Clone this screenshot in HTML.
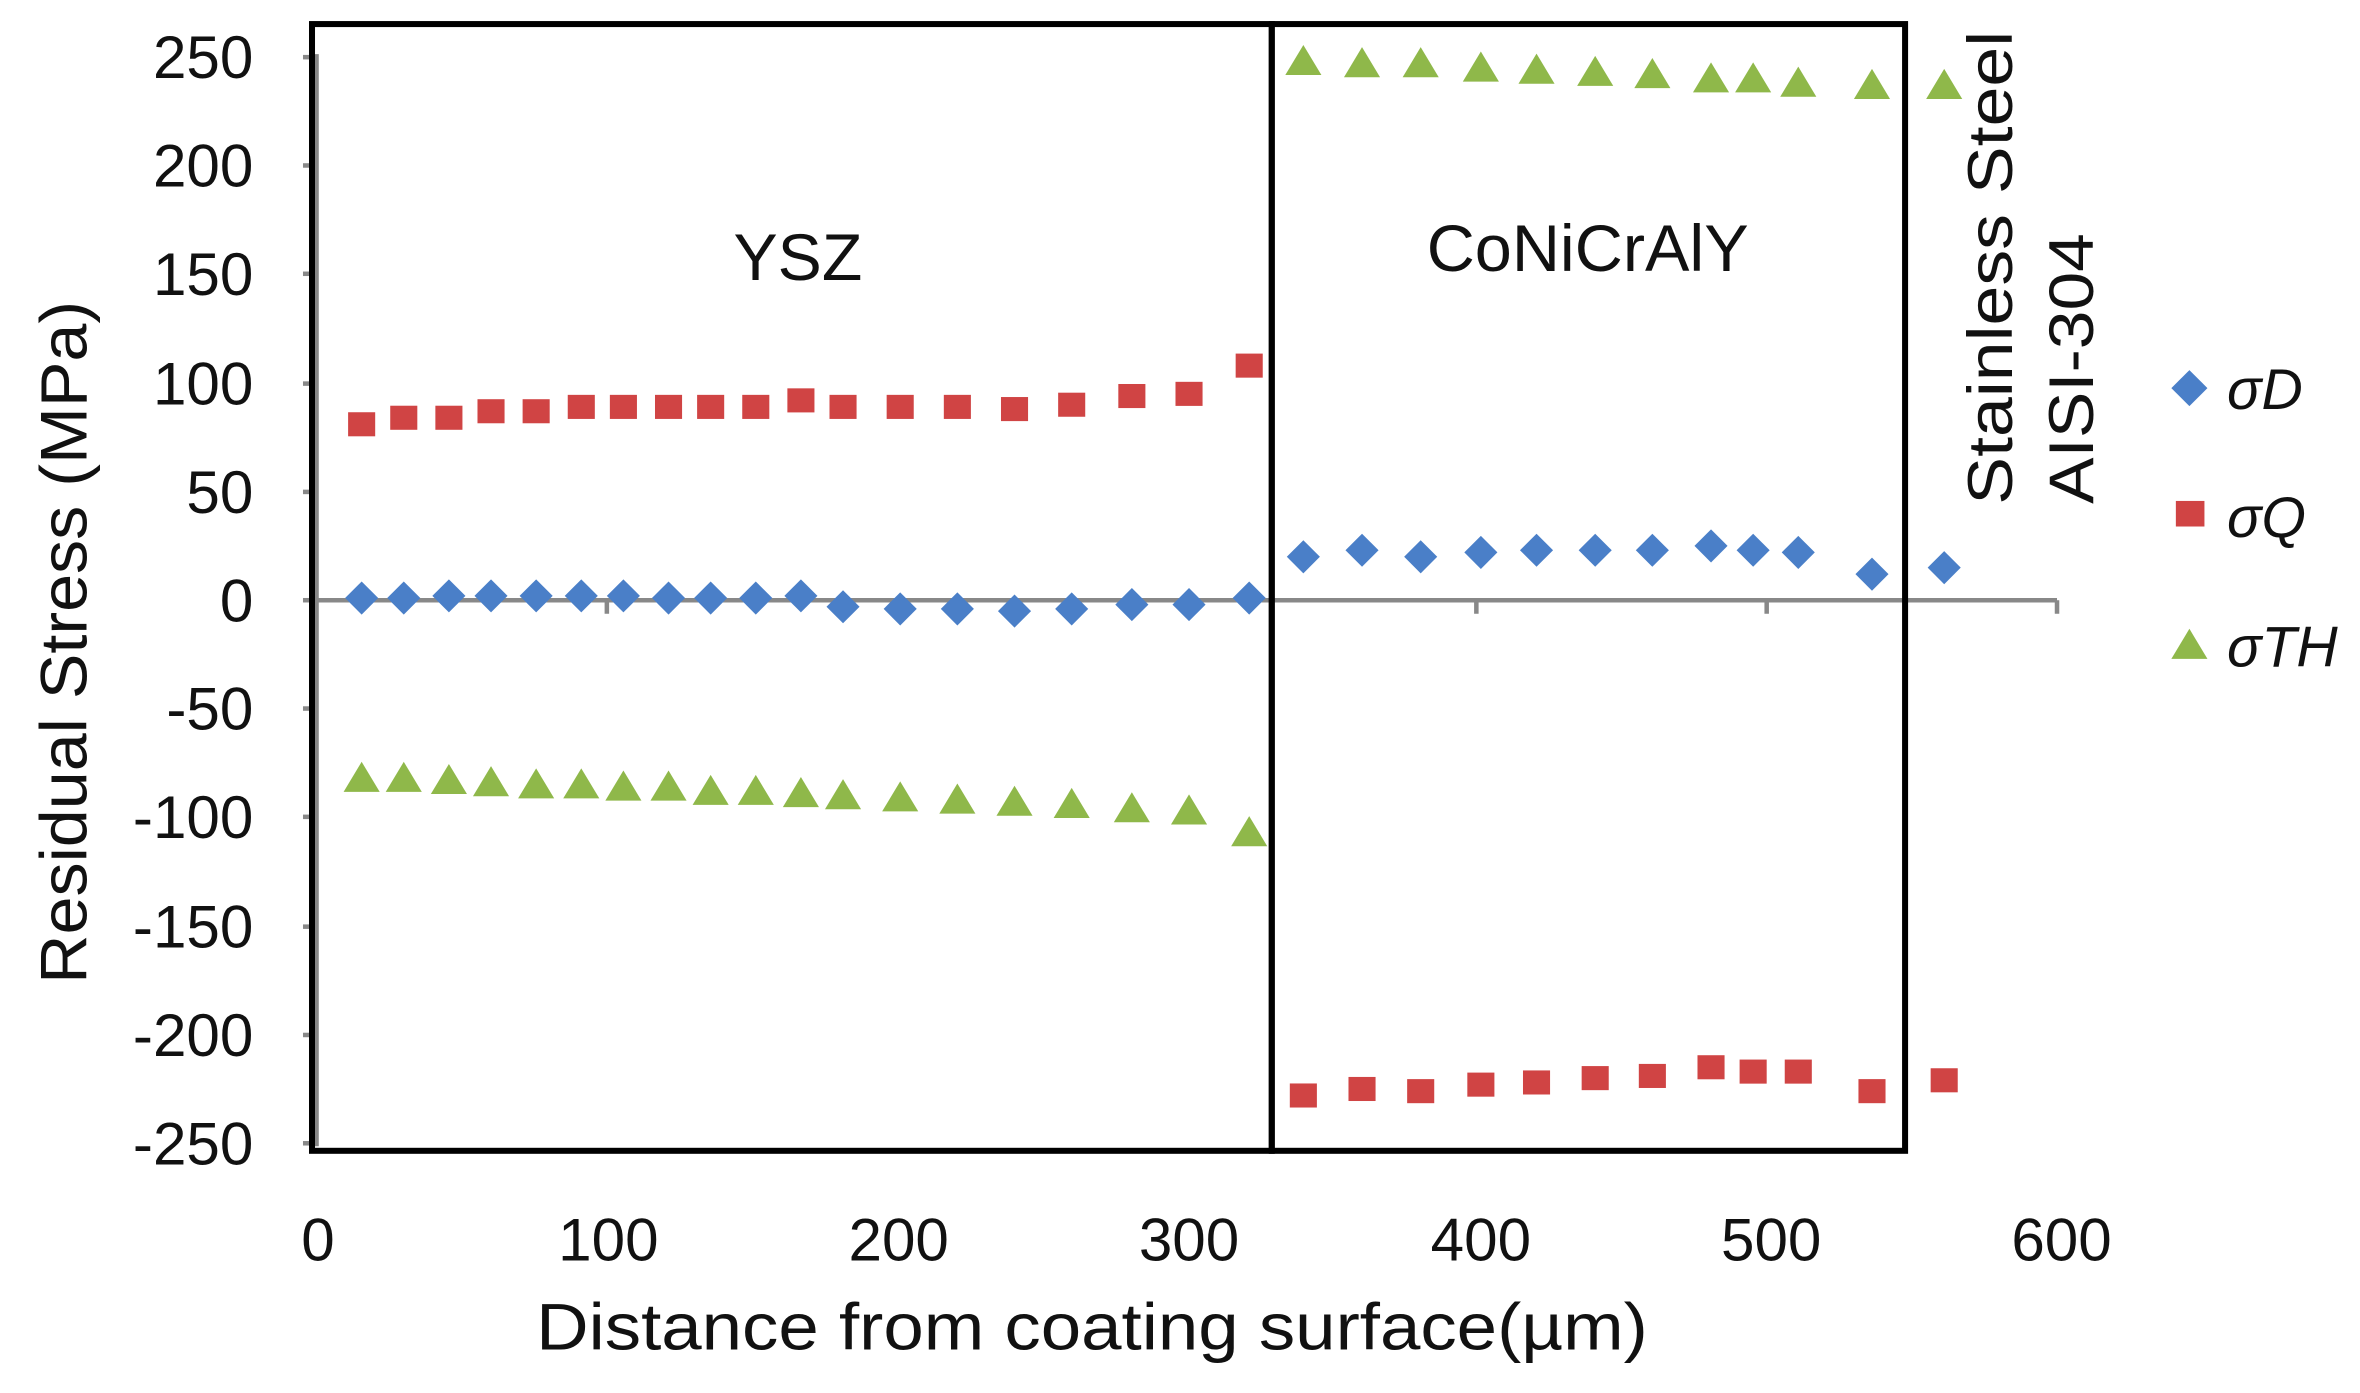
<!DOCTYPE html>
<html><head><meta charset="utf-8"><style>
html,body{margin:0;padding:0;background:#fff;width:2360px;height:1393px;overflow:hidden}
svg{display:block}
text{font-family:"Liberation Sans",sans-serif;fill:#111}
</style></head><body>
<svg id="s" width="2360" height="1393" viewBox="0 0 1568 926" xmlns="http://www.w3.org/2000/svg">
<rect width="1568" height="926" fill="#fff"/>
<line x1="210" y1="36" x2="210" y2="762" stroke="#888" stroke-width="3"/>
<g stroke="#888" stroke-width="3">
<line x1="201" y1="38" x2="210" y2="38"/><line x1="201" y1="110" x2="210" y2="110"/>
<line x1="201" y1="182" x2="210" y2="182"/><line x1="201" y1="255" x2="210" y2="255"/>
<line x1="201" y1="327" x2="210" y2="327"/><line x1="201" y1="399" x2="210" y2="399"/>
<line x1="201" y1="471" x2="210" y2="471"/><line x1="201" y1="543" x2="210" y2="543"/>
<line x1="201" y1="616" x2="210" y2="616"/><line x1="201" y1="688" x2="210" y2="688"/>
<line x1="201" y1="760" x2="210" y2="760"/>
<line x1="210" y1="399" x2="1367" y2="399"/>
<line x1="403" y1="399" x2="403" y2="408"/><line x1="596" y1="399" x2="596" y2="408"/>
<line x1="789" y1="399" x2="789" y2="408"/><line x1="981" y1="399" x2="981" y2="408"/>
<line x1="1174" y1="399" x2="1174" y2="408"/><line x1="1367" y1="399" x2="1367" y2="408"/>
</g>
<rect x="207" y="16" width="638" height="749" fill="none" stroke="#000" stroke-width="4"/>
<rect x="845" y="16" width="421" height="749" fill="none" stroke="#000" stroke-width="4"/>
<g font-size="40" text-anchor="end">
<text x="168" y="52">250</text><text x="168" y="124">200</text><text x="168" y="196">150</text>
<text x="168" y="269">100</text><text x="168" y="341">50</text><text x="168" y="413">0</text>
<text x="168" y="485">-50</text><text x="168" y="557">-100</text><text x="168" y="630">-150</text>
<text x="168" y="702">-200</text><text x="168" y="774">-250</text>
</g>
<g font-size="40" text-anchor="middle">
<text x="211" y="838">0</text><text x="404" y="838">100</text><text x="597" y="838">200</text>
<text x="790" y="838">300</text><text x="984" y="838">400</text><text x="1177" y="838">500</text><text x="1370" y="838">600</text>
</g>
<text x="356" y="897" font-size="44" textLength="739" lengthAdjust="spacingAndGlyphs">Distance from coating surface(µm)</text>
<text transform="translate(57,427) rotate(-90)" font-size="44" text-anchor="middle" textLength="454" lengthAdjust="spacingAndGlyphs">Residual Stress (MPa)</text>
<text x="530" y="186" font-size="44" text-anchor="middle">YSZ</text>
<text x="1055" y="180" font-size="44" text-anchor="middle" textLength="214" lengthAdjust="spacingAndGlyphs">CoNiCrAlY</text>
<text transform="translate(1337,178) rotate(-90)" font-size="42" text-anchor="middle" textLength="315" lengthAdjust="spacingAndGlyphs">Stainless  Steel</text>
<text transform="translate(1391,245) rotate(-90)" font-size="42" text-anchor="middle" textLength="180" lengthAdjust="spacingAndGlyphs">AISI-304</text>
<g id="pts"></g>
<polygon points="1455,246 1467,258 1455,270 1443,258" fill="#4a7fc8"/>
<text x="1480" y="272" font-size="38" font-style="italic">σD</text>
<rect x="1446" y="333" width="19" height="17" fill="#d04444"/>
<text x="1480" y="357" font-size="38" font-style="italic">σQ</text>
<polygon points="1455,418 1467,438 1443,438" fill="#8fb84a"/>
<text x="1480" y="443" font-size="38" font-style="italic">σTH</text>
</svg>
<script>
var xs1=[240,268,298,326,356,386,414,444,472,502,532,560,598,636,674,712,752,790,830];
var xs2=[866,905,944,984,1021,1060,1098,1137,1165,1195,1244,1292];
var D=[1,1,2,2,2,2,2,1,1,1,2,-3,-4,-4,-5,-4,-2,-2,1, 20,23,20,22,23,23,23,25,23,22,12,15];
var Q=[81,84,84,87,87,89,89,89,89,89,92,89,89,89,88,90,94,95,108, -228,-225,-226,-223,-222,-220,-219,-215,-217,-217,-226,-221];
var T=[-82,-82,-83,-84,-85,-85,-86,-86,-88,-88,-89,-90,-91,-92,-93,-94,-96,-97,-107, 248,247,247,245,244,243,242,240,240,238,237,237];
var xs=xs1.concat(xs2),h='';
function Y(v){return 399-v*1.444;}
for(var i=0;i<xs.length;i++){var x=xs[i],y;
y=Y(T[i]);h+='<polygon points="'+x+','+(y-11)+' '+(x+12)+','+(y+9)+' '+(x-12)+','+(y+9)+'" fill="#8fb84a"/>';
y=Y(Q[i]);h+='<rect x="'+(x-9)+'" y="'+(y-8)+'" width="18" height="16" fill="#d04444"/>';
y=Y(D[i]);h+='<polygon points="'+x+','+(y-11)+' '+(x+11)+','+y+' '+x+','+(y+11)+' '+(x-11)+','+y+'" fill="#4a7fc8"/>';}
document.getElementById('pts').innerHTML=h;
</script>
</body></html>
